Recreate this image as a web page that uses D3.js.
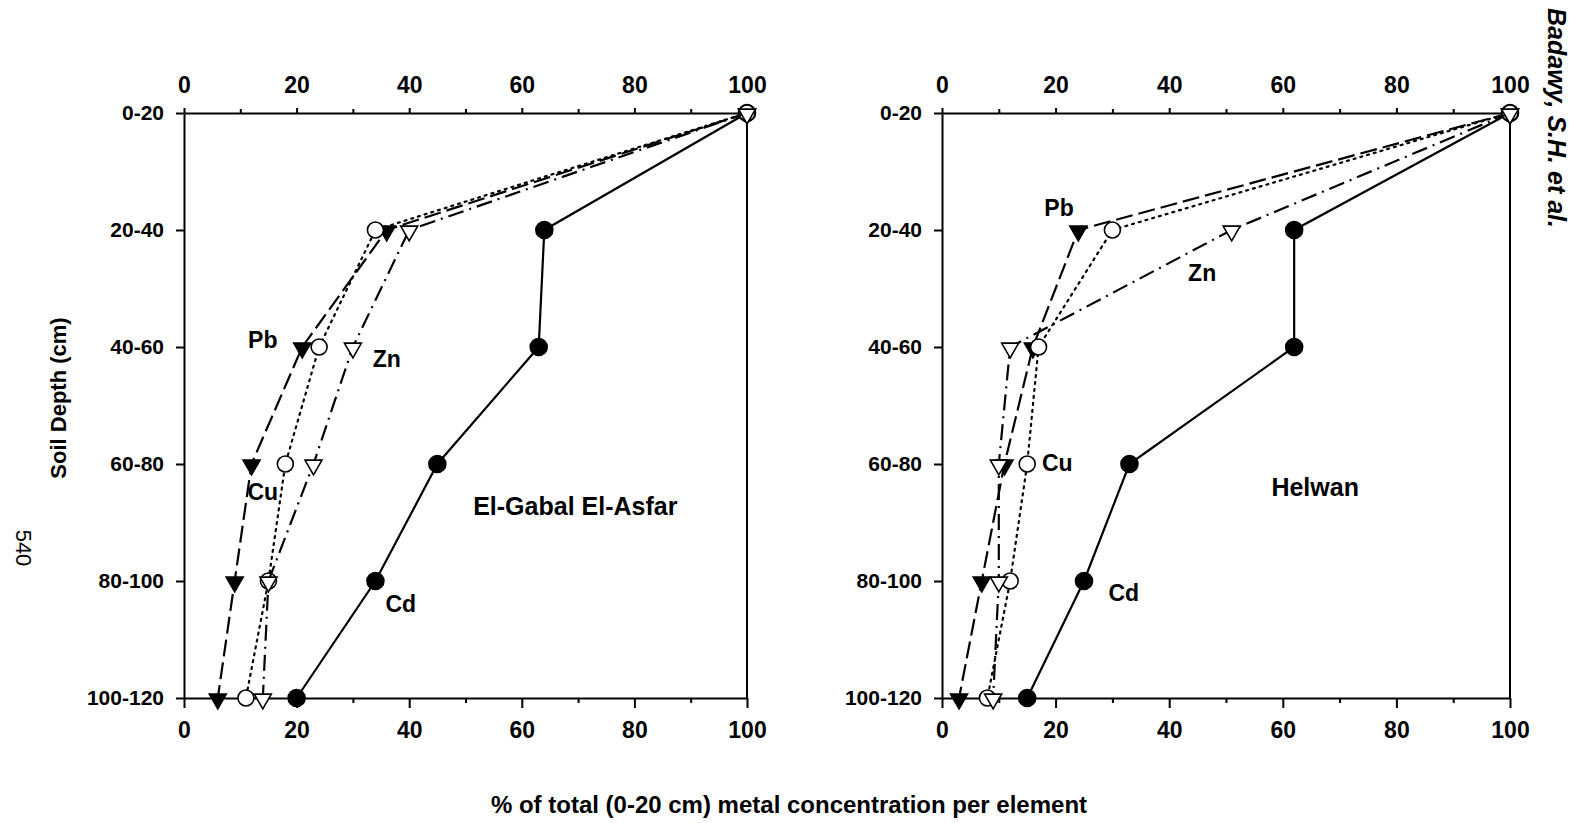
<!DOCTYPE html>
<html>
<head>
<meta charset="utf-8">
<script src="https://cdn.jsdelivr.net/npm/d3@7"></script>
<style>
  body { margin: 0; background: #fff; }
  text { font-family: "Liberation Sans", Arial, sans-serif; font-weight: bold; fill: #000; }
  .axis path, .axis line { stroke: #000; stroke-width: 2; }
</style>
</head>
<body>
<svg width="1571" height="823"></svg>
<script>
// depth classes (y axis) and x tick values
var depths = ["0-20", "20-40", "40-60", "60-80", "80-100", "100-120"];
var xTicks = [0, 20, 40, 60, 80, 100];
var xMinor = [10, 30, 50, 70, 90];

// % of the 0-20 cm concentration, El-Gabal El-Asfar
var pbGabal = [100, 36, 21, 12, 9, 6];
var cuGabal = [100, 34, 24, 18, 15, 11];
var znGabal = [100, 40, 30, 23, 15, 14];
var cdGabal = [100, 64, 63, 45, 34, 20];

// % of the 0-20 cm concentration, Helwan
var pbHelwan = [100, 24, 16, 11, 7, 3];
var cuHelwan = [100, 30, 17, 15, 12, 8];
var znHelwan = [100, 51, 12, 10, 10, 9];
var cdHelwan = [100, 62, 62, 33, 25, 15];

var svg = d3.select("svg");
var top0 = 113, bottom0 = 698;

// style per element
var styles = {
  Pb: {dash: "17,6", marker: "tri", fill: "#000"},
  Cu: {dash: "2,5", marker: "circle", fill: "#fff"},
  Zn: {dash: "16,6,2,6", marker: "tri", fill: "#fff"},
  Cd: {dash: null, marker: "circle", fill: "#000"}
};

var panels = [
  {name: "El-Gabal El-Asfar", x0: 184, x1: 747,
   series: {Cd: cdGabal, Pb: pbGabal, Cu: cuGabal, Zn: znGabal},
   // label positions in data units: [x value, depth index]
   labels: {Pb: [14, 1.94], Zn: [36, 2.1], Cu: [14, 3.24], Cd: [38.5, 4.2]},
   place: [69.5, 3.36]},
  {name: "Helwan", x0: 942, x1: 1510,
   series: {Cd: cdHelwan, Pb: pbHelwan, Cu: cuHelwan, Zn: znHelwan},
   labels: {Pb: [20.6, 0.81], Zn: [45.8, 1.37], Cu: [20.3, 2.99], Cd: [32, 4.1]},
   place: [65.7, 3.2]}
];

var y = d3.scaleLinear().domain([0, 5]).range([top0, bottom0]);

panels.forEach(function(p) {
  var x = d3.scaleLinear().domain([0, 100]).range([p.x0, p.x1]);
  var g = svg.append("g");

  // frame: right edge
  g.append("line")
    .attr("x1", p.x1).attr("x2", p.x1).attr("y1", top0).attr("y2", bottom0)
    .attr("stroke", "#000").attr("stroke-width", 2);

  // bottom axis
  var bAx = g.append("g").attr("class", "axis")
    .attr("transform", "translate(0," + bottom0 + ")")
    .call(d3.axisBottom(x).tickValues(xTicks).tickSize(10).tickSizeOuter(0).tickPadding(14));
  bAx.selectAll("text").style("font-size", "23px");
  g.append("g").attr("class", "axis")
    .attr("transform", "translate(0," + bottom0 + ")")
    .call(d3.axisBottom(x).tickValues(xMinor).tickSize(5).tickFormat(""))
    .select(".domain").remove();

  // top axis
  var tAx = g.append("g").attr("class", "axis")
    .attr("transform", "translate(0," + top0 + ")")
    .call(d3.axisTop(x).tickValues(xTicks).tickSize(5).tickSizeOuter(0).tickPadding(15));
  tAx.selectAll("text").style("font-size", "23px");
  g.append("g").attr("class", "axis")
    .attr("transform", "translate(0," + top0 + ")")
    .call(d3.axisTop(x).tickValues(xMinor).tickSize(4).tickFormat(""))
    .select(".domain").remove();

  // left axis
  var lAx = g.append("g").attr("class", "axis")
    .attr("transform", "translate(" + p.x0 + ",0)")
    .call(d3.axisLeft(y).tickValues(d3.range(depths.length)).tickSize(8).tickSizeOuter(0)
      .tickPadding(12).tickFormat(function(i) { return depths[i]; }));
  lAx.selectAll("text").style("font-size", "21px");

  var line = d3.line()
    .x(function(d) { return x(d); })
    .y(function(d, i) { return y(i); });

  Object.keys(p.series).forEach(function(k) {
    var vals = p.series[k], st = styles[k];
    g.append("path")
      .attr("d", line(vals))
      .attr("fill", "none")
      .attr("stroke", "#000")
      .attr("stroke-width", 2.2)
      .attr("stroke-dasharray", st.dash)
      .attr("stroke-linecap", st.dash === "2,5" ? "round" : "butt");

    var m = g.selectAll(".m" + k).data(vals).enter();
    if (st.marker === "circle") {
      m.append("circle")
        .attr("cx", function(d) { return x(d); })
        .attr("cy", function(d, i) { return y(i); })
        .attr("r", st.fill === "#000" ? 8.5 : 8)
        .attr("fill", st.fill)
        .attr("stroke", "#000").attr("stroke-width", 1.6);
    } else {
      m.append("path")
        .attr("d", d3.symbol(d3.symbolTriangle, 125))
        .attr("transform", function(d, i) { return "translate(" + x(d) + "," + (y(i) + 1) + ") rotate(180)"; })
        .attr("fill", st.fill)
        .attr("stroke", "#000").attr("stroke-width", 1.6);
    }
  });

  // element labels
  Object.keys(p.labels).forEach(function(k) {
    var pos = p.labels[k];
    g.append("text")
      .attr("x", x(pos[0])).attr("y", y(pos[1]))
      .attr("text-anchor", "middle").attr("dominant-baseline", "central")
      .style("font-size", "23px")
      .text(k);
  });

  g.append("text")
    .attr("x", x(p.place[0])).attr("y", y(p.place[1]))
    .attr("text-anchor", "middle").attr("dominant-baseline", "central")
    .style("font-size", "25px")
    .text(p.name);
});

// axis titles
svg.append("text")
  .attr("transform", "translate(66,398) rotate(-90)")
  .attr("text-anchor", "middle")
  .style("font-size", "22px")
  .text("Soil Depth (cm)");

svg.append("text")
  .attr("x", 789).attr("y", 813)
  .attr("text-anchor", "middle")
  .style("font-size", "24px")
  .text("% of total (0-20 cm) metal concentration per element");

// page furniture from the scanned page
svg.append("text")
  .attr("transform", "translate(16,548) rotate(90)")
  .attr("text-anchor", "middle")
  .style("font-size", "22px").style("font-weight", "normal")
  .text("540");

svg.append("text")
  .attr("transform", "translate(1548,8) rotate(90)")
  .attr("text-anchor", "start")
  .style("font-size", "25px").style("font-style", "italic")
  .text("Badawy, S.H. et al.");
</script>
</body>
</html>
